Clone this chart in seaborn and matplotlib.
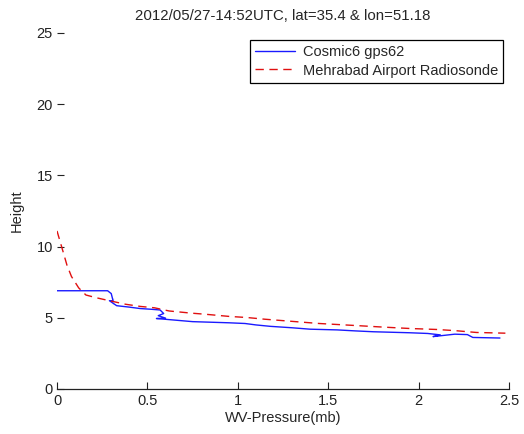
import matplotlib
matplotlib.use("Agg")
import matplotlib.pyplot as plt
import seaborn as sns
import pandas as pd

# Cosmic6 gps62 profile (WV pressure in mb, height in km)
cosmic_x = [0.0, 0.28, 0.30, 0.31, 0.29, 0.31, 0.33, 0.40, 0.46, 0.52, 0.57, 0.59, 0.56, 0.60, 0.55, 0.60,
            0.75, 0.95, 1.04, 1.10, 1.18, 1.30, 1.40, 1.55, 1.65, 1.75, 1.95, 2.05, 2.12, 2.08, 2.20, 2.27, 2.30, 2.45]
cosmic_y = [6.9, 6.9, 6.7, 6.4, 6.2, 6.0, 5.85, 5.75, 5.65, 5.6, 5.55, 5.3, 5.15, 5.05, 4.95, 4.9,
            4.73, 4.65, 4.6, 4.5, 4.4, 4.3, 4.2, 4.15, 4.08, 4.02, 3.95, 3.9, 3.8, 3.68, 3.85, 3.82, 3.62, 3.58]

# Mehrabad Airport Radiosonde profile
sonde_x = [0.0, 0.03, 0.055, 0.08, 0.12, 0.16, 0.22, 0.29, 0.38, 0.46, 0.54, 0.62, 0.74, 0.82,
           0.95, 1.05, 1.15, 1.30, 1.45, 1.62, 1.80, 1.95, 2.10, 2.20, 2.32, 2.48]
sonde_y = [11.1, 9.8, 8.7, 7.9, 7.1, 6.6, 6.4, 6.2, 5.95, 5.8, 5.7, 5.48, 5.33, 5.25,
           5.1, 5.02, 4.9, 4.75, 4.6, 4.48, 4.35, 4.25, 4.18, 4.1, 3.97, 3.92]

x_ticks = [0, 0.5, 1, 1.5, 2, 2.5]
x_tick_labels = ["0", "0.5", "1", "1.5", "2", "2.5"]
y_ticks = [0, 5, 10, 15, 20, 25]
series_names = ["Cosmic6 gps62", "Mehrabad Airport Radiosonde"]

sns.set_style("white")
plt.rcParams['font.family'] = ['Liberation Sans', 'DejaVu Sans']

fig = plt.figure(figsize=(5.24, 4.34), dpi=100)
ax = fig.add_axes([57/524, 45/434, 452/524, 356/434])

df_c = pd.DataFrame({"x": cosmic_x, "y": cosmic_y})
df_s = pd.DataFrame({"x": sonde_x, "y": sonde_y})
sns.lineplot(data=df_c, x="x", y="y", sort=False, ax=ax, color="#1a1aff", lw=1.0, label=series_names[0])
sns.lineplot(data=df_s, x="x", y="y", sort=False, ax=ax, color="#e01010", lw=1.0,
             dashes=False, linestyle=(0, (6, 4)), label=series_names[1])

ax.set_xlim(0, 2.5)
ax.set_ylim(0, 25)
ax.set_xticks(x_ticks)
ax.set_xticklabels(x_tick_labels)
ax.set_yticks(y_ticks)
ax.tick_params(axis="both", left=True, bottom=True, direction="in", length=5, width=0.8,
               labelsize=10.5, colors="#222222")
ax.tick_params(axis="y", pad=3)
for s in ["top", "right", "left"]:
    ax.spines[s].set_visible(False)
ax.spines["bottom"].set_color("#222222")
ax.spines["bottom"].set_linewidth(0.9)

ax.set_xlabel("WV-Pressure(mb)", fontsize=10.5, labelpad=2)
ax.set_ylabel("Height", fontsize=10.5, labelpad=9)
ax.set_title("2012/05/27-14:52UTC, lat=35.4 & lon=51.18", fontsize=10.8, pad=9)

leg = ax.legend(loc="upper right", bbox_to_anchor=(0.987, 0.98), borderaxespad=0,
                fancybox=False, framealpha=1, edgecolor="black", fontsize=10.5,
                handlelength=2.8, handletextpad=0.5, borderpad=0.35, labelspacing=0.3)
leg.get_frame().set_linewidth(0.9)

fig.savefig("out.png", dpi=100)
